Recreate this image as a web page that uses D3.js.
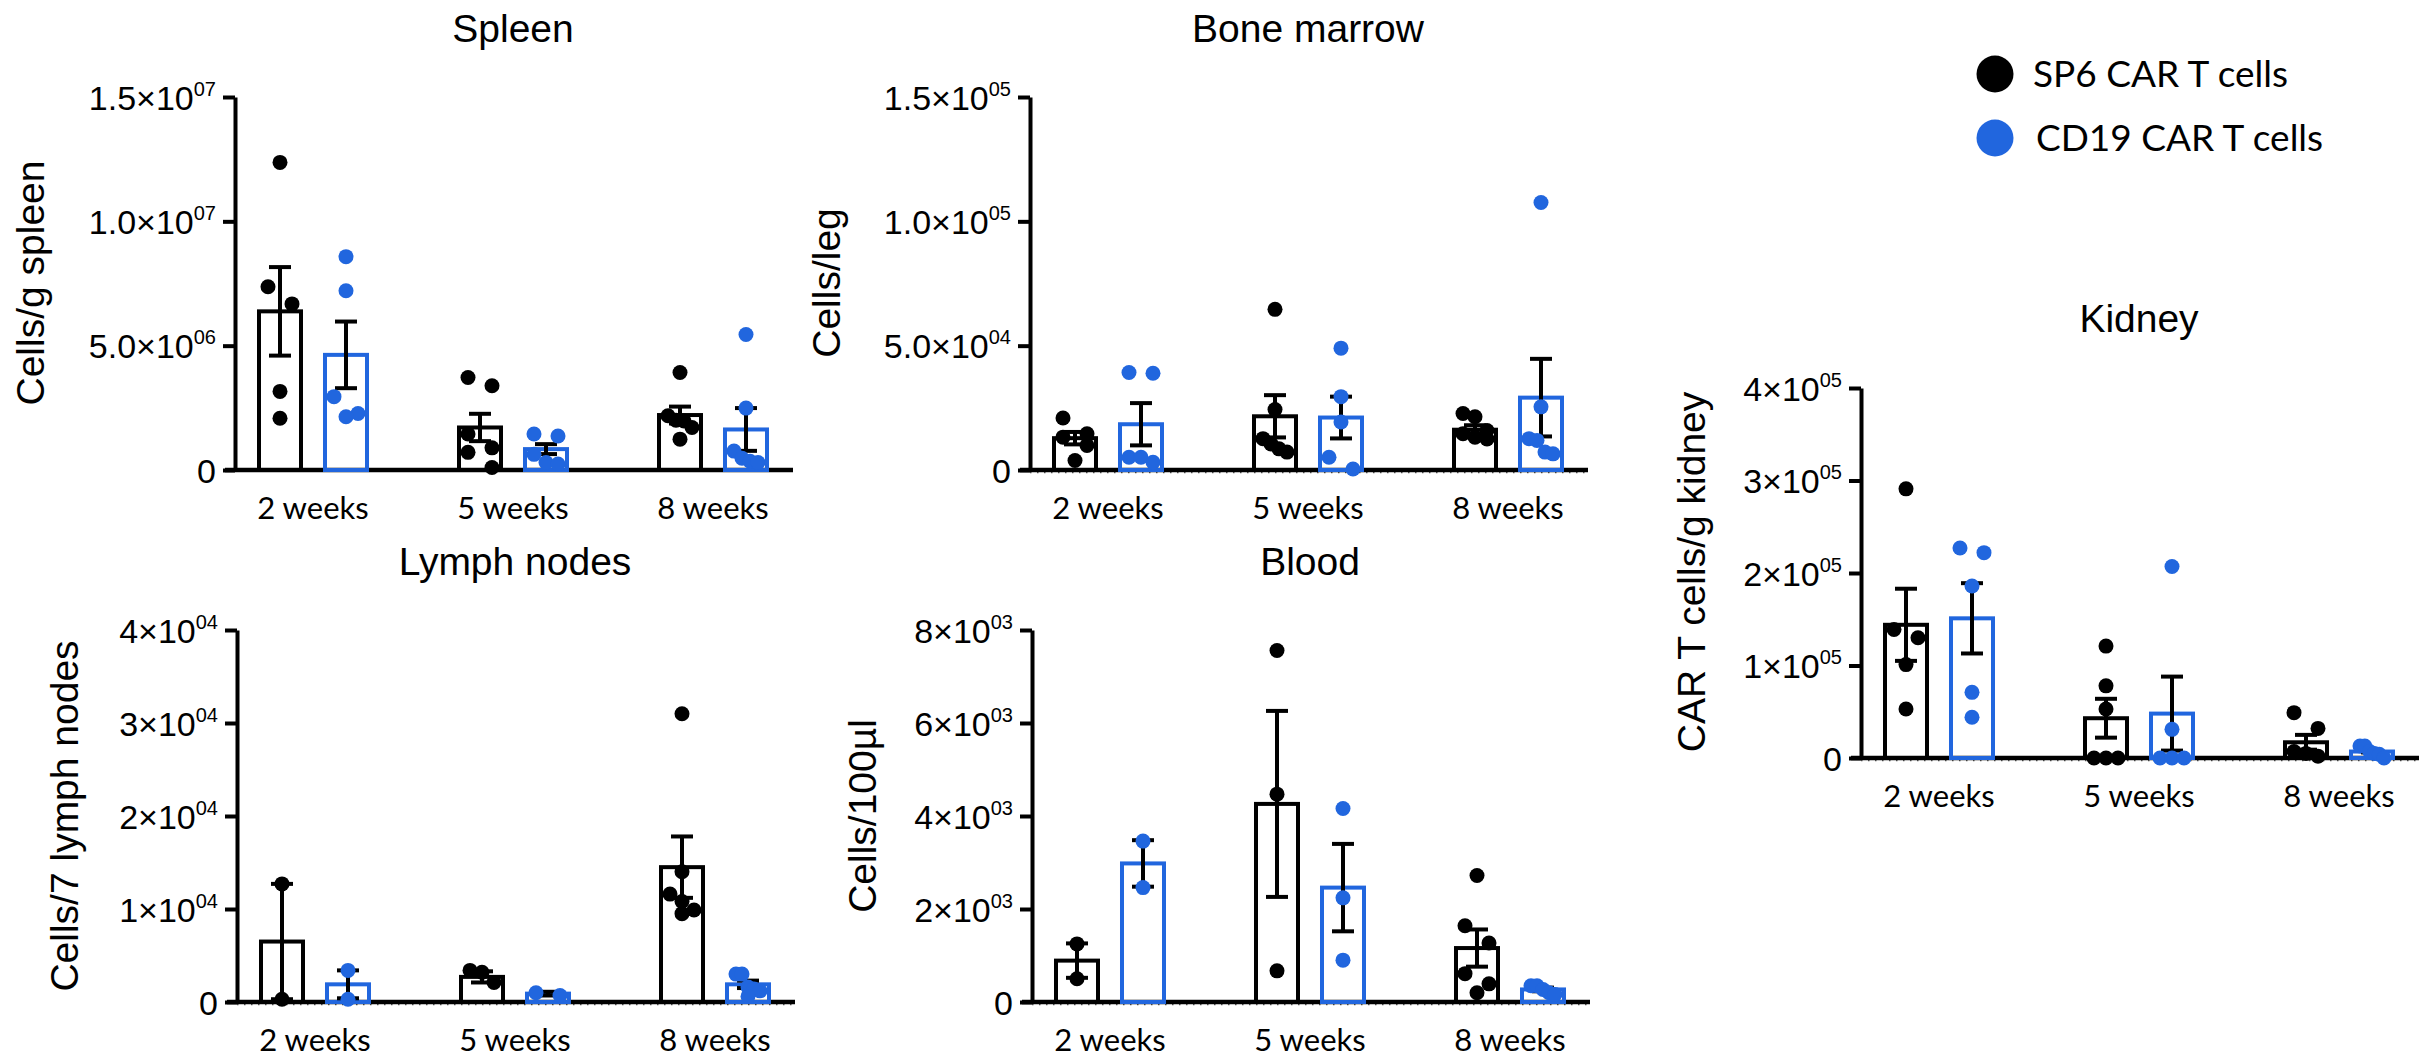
<!DOCTYPE html>
<meta charset="utf-8">
<script src="https://d3js.org/d3.v7.min.js"></script>
<style>
  body { margin: 0; background: #fff; }
</style>
<div id="chart"></div>
<script>

// categories and series
var weeks = ["2 weeks", "5 weeks", "8 weeks"];
var series = ["SP6 CAR T cells", "CD19 CAR T cells"];
var colors = ["#000000", "#2166de"];

// Spleen (cells / g spleen)
var spleenSP6Mean = [6.38e6, 1.71e6, 2.21e6];
var spleenSP6Sem = [1.78e6, 0.55e6, 0.34e6];
var spleenCD19Mean = [4.63e6, 0.84e6, 1.63e6];
var spleenCD19Sem = [1.34e6, 0.20e6, 0.86e6];
var spleenSP6Points = [[12.37e6, 7.37e6, 6.68e6, 3.16e6, 2.08e6],
                       [3.72e6, 3.39e6, 1.45e6, 0.89e6, 0.71e6, 0.10e6],
                       [3.92e6, 2.18e6, 2.00e6, 1.97e6, 1.71e6, 1.24e6]];
var spleenCD19Points = [[8.58e6, 7.21e6, 2.95e6, 2.27e6, 2.14e6],
                        [1.45e6, 1.37e6, 0.63e6, 0.30e6, 0.24e6],
                        [5.45e6, 2.49e6, 0.76e6, 0.47e6, 0.35e6, 0.30e6]];
var spleenTicks = [0, 5e6, 1e7, 1.5e7];
var spleenTickLabels = ["0", "5.0\u00d710|06", "1.0\u00d710|07", "1.5\u00d710|07"];

// Bone marrow (cells / leg)
var bmSP6Mean = [1.28e4, 2.16e4, 1.62e4];
var bmSP6Sem = [0.25e4, 0.85e4, 0.18e4];
var bmCD19Mean = [1.84e4, 2.11e4, 2.91e4];
var bmCD19Sem = [0.85e4, 0.84e4, 1.56e4];
var bmSP6Points = [[2.09e4, 1.46e4, 1.32e4, 0.99e4, 0.38e4],
                   [6.46e4, 2.43e4, 1.26e4, 1.05e4, 0.85e4, 0.72e4],
                   [2.27e4, 2.14e4, 1.59e4, 1.46e4, 1.32e4, 1.25e4]];
var bmCD19Points = [[3.92e4, 3.89e4, 0.51e4, 0.51e4, 0.31e4],
                    [4.90e4, 2.95e4, 1.93e4, 0.51e4, 0.04e4],
                    [10.76e4, 2.54e4, 1.26e4, 1.19e4, 0.72e4, 0.65e4]];
var bmTicks = [0, 5e4, 1e5, 1.5e5];
var bmTickLabels = ["0", "5.0\u00d710|04", "1.0\u00d710|05", "1.5\u00d710|05"];

// Lymph nodes (cells / 7 lymph nodes)
var lnSP6Mean = [0.65e4, 0.27e4, 1.45e4];
var lnSP6Sem = [0.62e4, 0.06e4, 0.33e4];
var lnCD19Mean = [0.19e4, 0.09e4, 0.19e4];
var lnCD19Sem = [0.15e4, 0.02e4, 0.04e4];
var lnSP6Points = [[1.27e4, 0.03e4],
                   [0.34e4, 0.32e4, 0.21e4],
                   [3.10e4, 1.40e4, 1.16e4, 1.08e4, 0.99e4, 0.95e4]];
var lnCD19Points = [[0.34e4, 0.03e4],
                    [0.10e4, 0.07e4],
                    [0.30e4, 0.30e4, 0.16e4, 0.14e4, 0.12e4, 0.06e4]];
var lnTicks = [0, 1e4, 2e4, 3e4, 4e4];
var lnTickLabels = ["0", "1\u00d710|04", "2\u00d710|04", "3\u00d710|04", "4\u00d710|04"];

// Blood (cells / 100 µl)
var bloodSP6Mean = [0.89e3, 4.26e3, 1.16e3];
var bloodSP6Sem = [0.37e3, 2.00e3, 0.40e3];
var bloodCD19Mean = [2.98e3, 2.46e3, 0.27e3];
var bloodCD19Sem = [0.50e3, 0.94e3, 0.04e3];
var bloodSP6Points = [[1.25e3, 0.50e3],
                      [7.56e3, 4.47e3, 0.67e3],
                      [2.72e3, 1.64e3, 1.27e3, 0.61e3, 0.39e3, 0.20e3]];
var bloodCD19Points = [[3.46e3, 2.46e3],
                       [4.16e3, 2.24e3, 0.90e3],
                       [0.35e3, 0.35e3, 0.27e3, 0.20e3, 0.16e3]];
var bloodTicks = [0, 2e3, 4e3, 6e3, 8e3];
var bloodTickLabels = ["0", "2\u00d710|03", "4\u00d710|03", "6\u00d710|03", "8\u00d710|03"];

// Kidney (CAR T cells / g kidney)
var kidSP6Mean = [1.44e5, 0.43e5, 0.17e5];
var kidSP6Sem = [0.39e5, 0.21e5, 0.08e5];
var kidCD19Mean = [1.51e5, 0.48e5, 0.07e5];
var kidCD19Sem = [0.38e5, 0.40e5, 0.01e5];
var kidSP6Points = [[2.91e5, 1.39e5, 1.30e5, 1.01e5, 0.53e5],
                    [1.21e5, 0.78e5, 0.53e5, 0, 0, 0],
                    [0.49e5, 0.32e5, 0.07e5, 0.05e5, 0.02e5]];
var kidCD19Points = [[2.27e5, 2.22e5, 1.86e5, 0.71e5, 0.44e5],
                     [2.07e5, 0.31e5, 0, 0, 0],
                     [0.13e5, 0.13e5, 0.07e5, 0.05e5, 0.04e5, 0]];
var kidTicks = [0, 1e5, 2e5, 3e5, 4e5];
var kidTickLabels = ["0", "1\u00d710|05", "2\u00d710|05", "3\u00d710|05", "4\u00d710|05"];


var sans = '"Liberation Sans", Arial, Helvetica, sans-serif';
var humanist = 'Lato, "Open Sans", sans-serif';

var svg = d3.select("#chart")
  .append("svg")
    .attr("width", 2431)
    .attr("height", 1058)
    .style("background", "#fff");

// panel layout
var panels = [
  {title: "Spleen", ylabel: "Cells/g spleen", ax: 235, yTop: 97, y0: 470, labelX: 44, labelY: 283, titleY: 42,
   mean: [spleenSP6Mean, spleenCD19Mean], sem: [spleenSP6Sem, spleenCD19Sem],
   points: [spleenSP6Points, spleenCD19Points], ticks: spleenTicks, tickLabels: spleenTickLabels, dotted: false},
  {title: "Bone marrow", ylabel: "Cells/leg", ax: 1030, yTop: 97, y0: 470, labelX: 840, labelY: 283, titleY: 42,
   mean: [bmSP6Mean, bmCD19Mean], sem: [bmSP6Sem, bmCD19Sem],
   points: [bmSP6Points, bmCD19Points], ticks: bmTicks, tickLabels: bmTickLabels, dotted: true},
  {title: "Lymph nodes", ylabel: "Cells/7 lymph nodes", ax: 237, yTop: 630, y0: 1002, labelX: 78, labelY: 816, titleY: 575,
   mean: [lnSP6Mean, lnCD19Mean], sem: [lnSP6Sem, lnCD19Sem],
   points: [lnSP6Points, lnCD19Points], ticks: lnTicks, tickLabels: lnTickLabels, dotted: true},
  {title: "Blood", ylabel: "Cells/100\u00b5l", ax: 1032, yTop: 630, y0: 1002, labelX: 876, labelY: 816, titleY: 575,
   mean: [bloodSP6Mean, bloodCD19Mean], sem: [bloodSP6Sem, bloodCD19Sem],
   points: [bloodSP6Points, bloodCD19Points], ticks: bloodTicks, tickLabels: bloodTickLabels, dotted: true},
  {title: "Kidney", ylabel: "CAR T cells/g kidney", ax: 1861, yTop: 388, y0: 758, labelX: 1705, labelY: 572, titleY: 332,
   mean: [kidSP6Mean, kidCD19Mean], sem: [kidSP6Sem, kidCD19Sem],
   points: [kidSP6Points, kidCD19Points], ticks: kidTicks, tickLabels: kidTickLabels, dotted: true}
];

// spread points that would overlap, Prism style rows
function swarm(vals, y, cx) {
  var pts = vals.map(function(v) { return {v: v, py: y(v)}; })
    .sort(function(a, b) { return a.py - b.py; });
  var rows = [], cur = null;
  pts.forEach(function(pt) {
    if (cur && pt.py - cur[0].py < 18) cur.push(pt);
    else { cur = [pt]; rows.push(cur); }
  });
  rows.forEach(function(row) {
    var n = row.length;
    var step = n > 1 ? 24 / (n - 1) : 0;
    row.forEach(function(pt, k) { pt.px = cx + (k - (n - 1) / 2) * step; });
  });
  return pts;
}

panels.forEach(function(p) {
  var g = svg.append("g");
  var yMax = p.ticks[p.ticks.length - 1];
  var y = d3.scaleLinear().domain([0, yMax]).range([p.y0, p.yTop]);
  var x = d3.scaleBand().domain(weeks).range([p.ax - 22, p.ax + 578]);
  var xs = d3.scaleBand().domain(series).range([-56, 56]).paddingInner(0.303);

  // title
  g.append("text")
    .attr("x", x(weeks[1]) + x.bandwidth() / 2)
    .attr("y", p.titleY)
    .attr("text-anchor", "middle")
    .style("font-family", sans)
    .style("font-size", "39px")
    .text(p.title);

  // y label
  g.append("text")
    .attr("transform", "translate(" + p.labelX + "," + p.labelY + ") rotate(-90)")
    .attr("text-anchor", "middle")
    .style("font-family", sans)
    .style("font-size", "39px")
    .text(p.ylabel);

  // y axis
  var yAxis = g.append("g")
    .attr("transform", "translate(" + p.ax + ",0)")
    .call(d3.axisLeft(y).tickValues(p.ticks).tickSize(12).tickSizeOuter(0).tickFormat(""))
    .attr("font-family", null)
    .attr("font-size", null);
  yAxis.select(".domain").attr("stroke", "#000").attr("stroke-width", 4);
  yAxis.selectAll(".tick line").attr("stroke", "#000").attr("stroke-width", 4);
  yAxis.selectAll(".tick text").each(function(d) {
    var parts = p.tickLabels[p.ticks.indexOf(d)].split("|");
    var t = d3.select(this)
      .attr("x", -19)
      .attr("dy", 12)
      .attr("fill", "#000")
      .style("font-family", sans)
      .style("font-size", "34px")
      .text(null);
    t.append("tspan").text(parts[0]);
    if (parts[1]) {
      t.append("tspan").attr("dy", -14).style("font-size", "20px").text(parts[1]);
    }
  });

  // x axis baseline
  if (p.dotted) {
    g.append("line")
      .attr("x1", p.ax).attr("x2", p.ax + 558)
      .attr("y1", p.y0 + 2.5).attr("y2", p.y0 + 2.5)
      .attr("stroke", "#555").attr("stroke-width", 1.5)
      .attr("stroke-dasharray", "1.5 5.5");
  }
  g.append("line")
    .attr("x1", p.ax - 10).attr("x2", p.ax + 558)
    .attr("y1", p.y0).attr("y2", p.y0)
    .attr("stroke", "#000").attr("stroke-width", 4.5);

  var xAxis = g.append("g")
    .attr("transform", "translate(0," + p.y0 + ")")
    .call(d3.axisBottom(x).tickSize(0))
    .attr("font-family", null)
    .attr("font-size", null);
  xAxis.select(".domain").remove();
  xAxis.selectAll(".tick text")
    .attr("y", 49)
    .attr("dy", 0)
    .attr("fill", "#000")
    .style("font-family", humanist)
    .style("font-size", "31px");

  // bars, error bars, dots
  series.forEach(function(s, si) {
    weeks.forEach(function(w, wi) {
      var cx = x(w) + x.bandwidth() / 2 + xs(s) + xs.bandwidth() / 2;
      var m = p.mean[si][wi], e = p.sem[si][wi];
      g.append("rect")
        .attr("x", cx - xs.bandwidth() / 2 + 2)
        .attr("y", y(m))
        .attr("width", xs.bandwidth() - 4)
        .attr("height", p.y0 - y(m))
        .attr("fill", "none")
        .attr("stroke", colors[si])
        .attr("stroke-width", 4);

      var lo = Math.max(0, m - e), hi = m + e;
      var eg = g.append("g").attr("stroke", "#000").attr("stroke-width", 4);
      eg.append("line").attr("x1", cx).attr("x2", cx).attr("y1", y(lo)).attr("y2", y(hi));
      eg.append("line").attr("x1", cx - 11).attr("x2", cx + 11).attr("y1", y(hi)).attr("y2", y(hi));
      eg.append("line").attr("x1", cx - 11).attr("x2", cx + 11).attr("y1", y(lo)).attr("y2", y(lo));
    });
  });

  series.forEach(function(s, si) {
    weeks.forEach(function(w, wi) {
      var cx = x(w) + x.bandwidth() / 2 + xs(s) + xs.bandwidth() / 2;
      g.selectAll(null)
        .data(swarm(p.points[si][wi], y, cx))
        .enter()
        .append("circle")
          .attr("cx", function(d) { return d.px; })
          .attr("cy", function(d) { return d.py; })
          .attr("r", 7.5)
          .attr("fill", colors[si]);
    });
  });
});

// legend
var legend = svg.append("g").attr("transform", "translate(1995,74)");
legend.selectAll("circle")
  .data(series)
  .enter()
  .append("circle")
    .attr("cx", 0)
    .attr("cy", function(d, i) { return i * 64; })
    .attr("r", 18.5)
    .attr("fill", function(d, i) { return colors[i]; });
legend.selectAll("text")
  .data(series)
  .enter()
  .append("text")
    .attr("x", function(d, i) { return i === 0 ? 38 : 41; })
    .attr("y", function(d, i) { return i * 64 + 13; })
    .style("font-family", humanist)
    .style("font-size", "37px")
    .text(function(d) { return d; });

</script>
